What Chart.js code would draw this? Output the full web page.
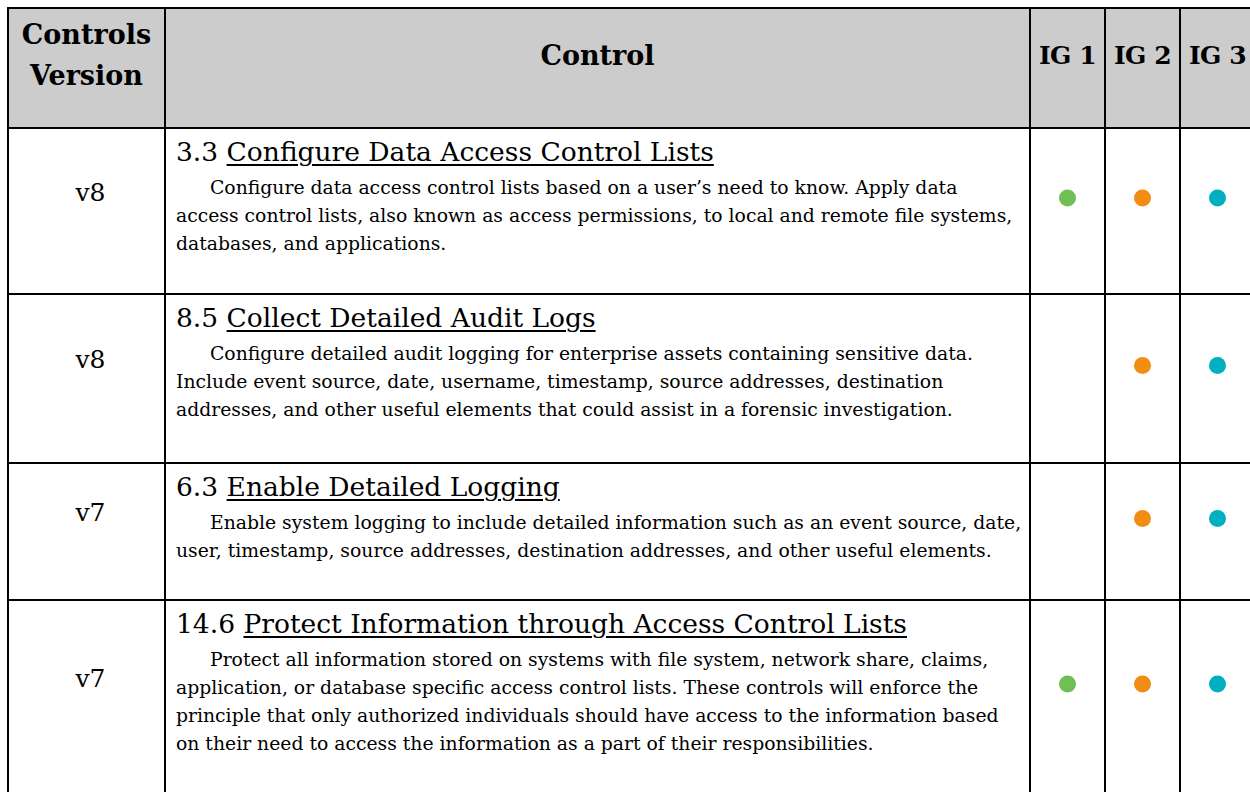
<!DOCTYPE html>
<html><head><meta charset="utf-8">
<script src="https://cdn.jsdelivr.net/npm/chart.js@4.4.1/dist/chart.umd.min.js"></script>
<style>
html,body{margin:0;padding:0;background:#fff;}
#wrap{position:relative;width:1250px;height:792px;overflow:hidden;background:#fff;}
table{position:absolute;left:7px;top:7px;border-collapse:collapse;table-layout:fixed;width:1247px;}
td,th{border:2px solid #000;padding:0;color:#000;}
th{background:#cccccc;font-family:'DejaVu Serif',serif;font-weight:bold;font-size:27px;line-height:41px;vertical-align:middle;padding-bottom:26px;text-align:center;}
th.ig{font-size:25px;letter-spacing:-0.5px;}
td.ver{font-family:'DejaVu Serif',serif;font-size:25px;text-align:center;vertical-align:middle;padding-bottom:38px;padding-left:8px;}
td.ctl{vertical-align:top;padding:3px 0 0 10px;font-family:'DejaVu Serif',serif;white-space:nowrap;}
.title{font-size:26.5px;line-height:40px;margin-bottom:2px;}
.title u{text-decoration-thickness:1.5px;text-underline-offset:3px;}
.line{font-size:18.8px;line-height:28px;}
.line.first{padding-left:34px;}
canvas.dots{position:absolute;pointer-events:none;}
</style></head>
<body><div id="wrap">
<table id="tbl">
<colgroup><col style="width:157px"><col style="width:865px"><col style="width:75px"><col style="width:75px"><col style="width:75px"></colgroup>
<thead><tr style="height:120px"><th>Controls<br>Version</th><th>Control</th><th class="ig" id="h0"></th><th class="ig" id="h1"></th><th class="ig" id="h2"></th></tr></thead>
<tbody id="body"></tbody>
</table>
</div>
<script>
// ---- data ----
const controlIds = ['3.3', '8.5', '6.3', '14.6'];
const versions = ['v8', 'v8', 'v7', 'v7'];
const titles = [
  'Configure Data Access Control Lists',
  'Collect Detailed Audit Logs',
  'Enable Detailed Logging',
  'Protect Information through Access Control Lists'
];
const descriptions = [
  ['Configure data access control lists based on a user\u2019s need to know. Apply data',
   'access control lists, also known as access permissions, to local and remote file systems,',
   'databases, and applications.'],
  ['Configure detailed audit logging for enterprise assets containing sensitive data.',
   'Include event source, date, username, timestamp, source addresses, destination',
   'addresses, and other useful elements that could assist in a forensic investigation.'],
  ['Enable system logging to include detailed information such as an event source, date,',
   'user, timestamp, source addresses, destination addresses, and other useful elements.'],
  ['Protect all information stored on systems with file system, network share, claims,',
   'application, or database specific access control lists. These controls will enforce the',
   'principle that only authorized individuals should have access to the information based',
   'on their need to access the information as a part of their responsibilities.']
];
const igLevels = ['IG 1', 'IG 2', 'IG 3'];
const ig1 = [true, false, false, true];
const ig2 = [true, true, true, true];
const ig3 = [true, true, true, true];
const igColors = ['#6fbf55', '#f28c12', '#00b0c0'];
const rowHeights = [166, 169, 137, 194];

// ---- table ----
igLevels.forEach((l, j) => { document.getElementById('h' + j).textContent = l; });
const tbody = document.getElementById('body');
controlIds.forEach((id, i) => {
  const tr = document.createElement('tr');
  tr.style.height = rowHeights[i] + 'px';
  const v = document.createElement('td'); v.className = 'ver'; v.textContent = versions[i]; tr.appendChild(v);
  const c = document.createElement('td'); c.className = 'ctl';
  const t = document.createElement('div'); t.className = 'title';
  t.appendChild(document.createTextNode(id + ' '));
  const u = document.createElement('u'); u.textContent = titles[i]; t.appendChild(u);
  c.appendChild(t);
  descriptions[i].forEach((ln, k) => {
    const d = document.createElement('div'); d.className = 'line' + (k === 0 ? ' first' : ''); d.textContent = ln; c.appendChild(d);
  });
  tr.appendChild(c);
  for (let j = 0; j < 3; j++) tr.appendChild(document.createElement('td'));
  tbody.appendChild(tr);
});

// ---- dots via Chart.js ----
const applies = [ig1, ig2, ig3];
const wrap = document.getElementById('wrap');
const wr = wrap.getBoundingClientRect();
Array.from(tbody.rows).forEach((tr, i) => {
  const a = tr.cells[2].getBoundingClientRect();
  const r = tr.getBoundingClientRect();
  const left = Math.round(a.left - wr.left);
  const top = Math.round(r.top - wr.top), h = Math.round(r.height);
  const w = Math.round(a.width * 3);
  const cv = document.createElement('canvas');
  cv.className = 'dots';
  cv.width = w; cv.height = h;
  cv.style.left = left + 'px';
  cv.style.top = top + 'px';
  cv.style.width = w + 'px'; cv.style.height = h + 'px';
  wrap.appendChild(cv);
  new Chart(cv, {
    type: 'scatter',
    data: {
      datasets: igLevels.map((lvl, j) => ({
        label: lvl,
        data: applies[j][i] ? [{ x: lvl, y: controlIds[i] }] : [],
        pointRadius: 8.5,
        pointHoverRadius: 8.5,
        pointBorderWidth: 0,
        pointBackgroundColor: igColors[j],
        pointBorderColor: igColors[j]
      }))
    },
    options: {
      responsive: false,
      animation: false,
      events: [],
      layout: { autoPadding: false, padding: { top: 0, bottom: 26, left: 0, right: 0 } },
      plugins: { legend: { display: false }, tooltip: { enabled: false } },
      scales: {
        x: { type: 'category', labels: igLevels, offset: true, display: false },
        y: { type: 'category', labels: [controlIds[i]], offset: true, display: false }
      }
    }
  });
});
</script>
</body></html>
